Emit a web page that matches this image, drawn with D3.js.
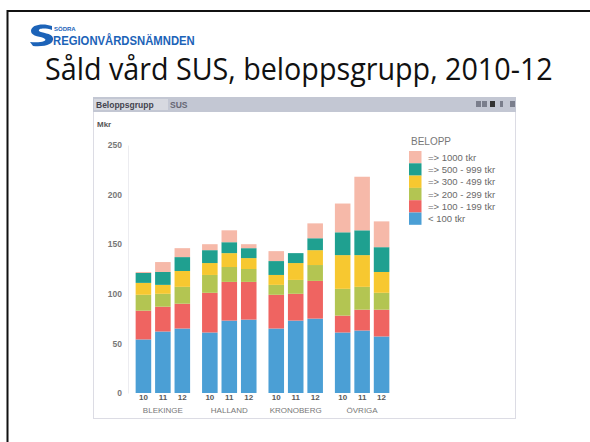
<!DOCTYPE html>
<html>
<head>
<meta charset="utf-8">
<script src="https://cdn.jsdelivr.net/npm/d3@7"></script>
<style>
  html, body { margin: 0; padding: 0; background: #fff; }
  svg { display: block; }
</style>
</head>
<body>
<svg id="chart" width="590" height="442"></svg>
<script>
// ---- data ----
var regions = ["BLEKINGE", "HALLAND", "KRONOBERG", "ÖVRIGA"];
var years = ["10", "11", "12"];
var bands = ["< 100 tkr", "=> 100 - 199 tkr", "=> 200 - 299 tkr", "=> 300 - 499 tkr", "=> 500 - 999 tkr", "=> 1000 tkr"];
// one value per bar, order: region x year
var under100 = [54, 62, 65, 61, 73, 74, 65, 73, 75, 61, 63, 57];
var b100_199 = [29, 25, 25, 40, 39, 38, 34, 27, 38, 17, 21, 27];
var b200_299 = [16, 13, 17, 18, 15, 13, 10, 14, 16, 27, 23, 17];
var b300_499 = [12, 9, 16, 12, 14, 11, 10, 17, 15, 34, 32, 21];
var b500_999 = [10, 13, 14, 13, 11, 10, 14, 10, 12, 23, 25, 25];
var b1000 = [1, 10, 9, 6, 12, 4, 10, 0, 15, 29, 54, 26];
var yTicks = [0, 50, 100, 150, 200, 250];
var colors = ["#4b9fd5", "#ef6461", "#b3c552", "#f7c830", "#1fa090", "#f6b9a9"];

var series = [under100, b100_199, b200_299, b300_499, b500_999, b1000];
var rows = [];
regions.forEach(function (r, i) {
  years.forEach(function (y, j) {
    var k = i * 3 + j;
    var row = {region: r, year: y};
    bands.forEach(function (b, s) { row[b] = series[s][k]; });
    rows.push(row);
  });
});

var svg = d3.select("#chart");

// slide frame (top + left edge visible)
svg.append("rect")
  .attr("x", 7.5).attr("y", 11)
  .attr("width", 620).attr("height", 460)
  .attr("fill", "none").attr("stroke", "#111").attr("stroke-width", 2);

// logo
var logo = svg.append("g");
logo.append("path")
  .attr("d", "M52,26 C44,23 31,24 31,31 C31,37 42,36 45,39 C47,41 41,43 30,42 L33,46 C46,47 54,44 53,38 C52,33 41,33 39,31 C38,28 46,28 52,30 Z")
  .attr("fill", "#1c63b8");
logo.append("text")
  .attr("x", 54).attr("y", 31)
  .attr("font-family", "Liberation Sans, Arial, sans-serif")
  .attr("font-size", 6).attr("font-weight", "bold")
  .attr("fill", "#1c63b8")
  .text("SÖDRA");
var logoText = logo.append("text")
  .attr("font-family", "Liberation Sans, Arial, sans-serif")
  .attr("font-size", 12).attr("font-weight", "bold")
  .attr("fill", "#1c63b8")
  .text("REGIONVÅRDSNÄMNDEN");
var lw = logoText.node().getComputedTextLength();
logoText.attr("transform", "translate(53,45) scale(" + (142 / lw) + ",1)");

// title, squeezed horizontally to the slide's width
var title = svg.append("text")
  .attr("font-family", "Open Sans, sans-serif")
  .attr("font-size", 31)
  .attr("fill", "#111")
  .text("Såld vård SUS, beloppsgrupp, 2010-12");
var tw = title.node().getComputedTextLength();
title.attr("transform", "translate(45,80) scale(" + (508 / tw) + ",1)");

// chart panel
svg.append("rect")
  .attr("x", 93.5).attr("y", 97.5)
  .attr("width", 422).attr("height", 321)
  .attr("fill", "#fff").attr("stroke", "#dcdce4");

var header = svg.append("g");
header.append("rect")
  .attr("x", 93).attr("y", 97).attr("width", 423).attr("height", 15)
  .attr("fill", "#c3c7d3");
header.append("rect")
  .attr("x", 94).attr("y", 99).attr("width", 74).attr("height", 11)
  .attr("fill", "#d7d9e0");
header.append("text")
  .attr("x", 96).attr("y", 108)
  .attr("font-family", "Liberation Sans, Arial, sans-serif")
  .attr("font-size", 8.5).attr("font-weight", "bold")
  .attr("fill", "#44444f")
  .text("Beloppsgrupp");
header.append("text")
  .attr("x", 170).attr("y", 108)
  .attr("font-family", "Liberation Sans, Arial, sans-serif")
  .attr("font-size", 8.5).attr("font-weight", "bold")
  .attr("fill", "#666674")
  .text("SUS");
[476, 482, 490, 500, 510].forEach(function (x, i) {
  header.append("rect")
    .attr("x", x).attr("y", 101).attr("width", i == 3 ? 3 : 5).attr("height", 6)
    .attr("fill", i == 2 ? "#333" : "#7a7e8c");
});

// scales
var y = d3.scaleLinear().domain([0, 250]).range([393, 145]);
var x0 = d3.scaleBand().domain(regions).range([129, 396]).paddingInner(0.18).paddingOuter(0.1);
var x1 = d3.scaleBand().domain(years).range([0, x0.bandwidth()]).paddingInner(0.2).paddingOuter(0);

var fontAxis = "Liberation Sans, Arial, sans-serif";

// y axis
var yAxis = svg.append("g")
  .attr("transform", "translate(128,0)")
  .call(d3.axisLeft(y).tickValues(yTicks).tickSize(0).tickPadding(6));
yAxis.select(".domain").attr("stroke", "#ececf0");
yAxis.selectAll("text")
  .attr("font-family", fontAxis).attr("font-size", 8.5).attr("font-weight", "bold")
  .attr("fill", "#777");

svg.append("text")
  .attr("x", 97).attr("y", 127)
  .attr("font-family", fontAxis).attr("font-size", 8).attr("font-weight", "bold")
  .attr("fill", "#555")
  .text("Mkr");

// stacked bars
var stack = d3.stack().keys(bands);
var layers = stack(rows);

svg.append("g")
  .selectAll("g")
  .data(layers)
  .enter().append("g")
  .attr("fill", function (d, i) { return colors[i]; })
  .selectAll("rect")
  .data(function (d) { return d; })
  .enter().append("rect")
  .attr("x", function (d) { return x0(d.data.region) + x1(d.data.year); })
  .attr("width", x1.bandwidth())
  .attr("y", function (d) { return y(d[1]); })
  .attr("height", function (d) { return Math.max(0, y(d[0]) - y(d[1])); });

// x labels
var xl = svg.append("g");
rows.forEach(function (r) {
  xl.append("text")
    .attr("x", x0(r.region) + x1(r.year) + x1.bandwidth() / 2)
    .attr("y", 400)
    .attr("text-anchor", "middle")
    .attr("font-family", fontAxis).attr("font-size", 8).attr("font-weight", "bold")
    .attr("fill", "#5a5a5a")
    .text(r.year);
});
regions.forEach(function (r) {
  xl.append("text")
    .attr("x", x0(r) + x0.bandwidth() / 2)
    .attr("y", 413)
    .attr("text-anchor", "middle")
    .attr("font-family", fontAxis).attr("font-size", 8)
    .attr("fill", "#777")
    .text(r);
});

// legend
var legend = svg.append("g").attr("transform", "translate(409,0)");
legend.append("text")
  .attr("x", 2).attr("y", 145)
  .attr("font-family", fontAxis).attr("font-size", 10)
  .attr("fill", "#777")
  .text("BELOPP");
var legendOrder = bands.slice().reverse();
legendOrder.forEach(function (b, i) {
  legend.append("rect")
    .attr("x", 0).attr("y", 151 + i * 12.3)
    .attr("width", 12.5).attr("height", 12.3)
    .attr("fill", colors[bands.indexOf(b)]);
  legend.append("text")
    .attr("x", 19).attr("y", 160.8 + i * 12.3)
    .attr("font-family", fontAxis).attr("font-size", 9.5)
    .attr("fill", "#6a6a6a")
    .text(b);
});
</script>
</body>
</html>
